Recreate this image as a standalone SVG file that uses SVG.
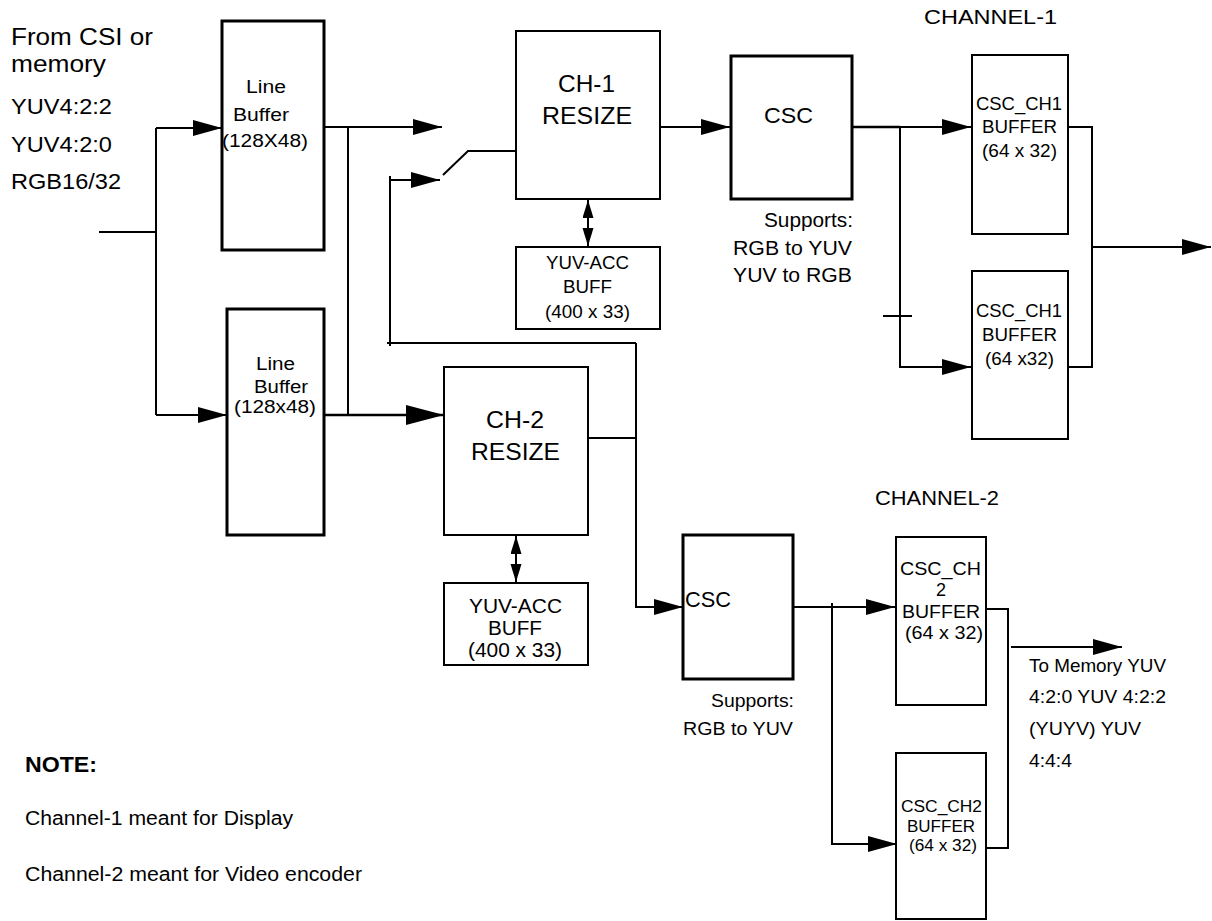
<svg xmlns="http://www.w3.org/2000/svg" width="1212" height="921" viewBox="0 0 1212 921">
<style>
text{font-family:"Liberation Sans",Arial,Helvetica,sans-serif;fill:#000}
.box{fill:#fff;stroke:#000;stroke-width:2}
.thick{stroke-width:3}
.ln{fill:none;stroke:#000;stroke-width:2}
.lnb{fill:none;stroke:#000;stroke-width:2.6}
.f18{font-size:18px}.f16{font-size:16px}.f19{font-size:19px}.f20{font-size:20px}.f21{font-size:21px}.f22{font-size:22px}.f24{font-size:24px}
</style>
<defs>
<marker id="arr" markerUnits="userSpaceOnUse" markerWidth="30" markerHeight="18" refX="29" refY="8" orient="auto">
<path d="M0,0 L29,8 L0,16 z" fill="#000"/>
</marker>
<marker id="arrL" markerUnits="userSpaceOnUse" markerWidth="40" markerHeight="22" refX="38" refY="10" orient="auto">
<path d="M0,0 L38,10 L0,20 z" fill="#000"/>
</marker>
<marker id="arrS" markerUnits="userSpaceOnUse" markerWidth="20" markerHeight="12" refX="18" refY="5.5" orient="auto-start-reverse">
<path d="M0,0 L18,5.5 L0,11 z" fill="#000"/>
</marker>
</defs>

<g id="labels">
<text class="f24" x="11" y="45" textLength="142" lengthAdjust="spacingAndGlyphs">From CSI or</text>
<text class="f24" x="11" y="72" textLength="95" lengthAdjust="spacingAndGlyphs">memory</text>
<text class="f22" x="11" y="114" textLength="101" lengthAdjust="spacingAndGlyphs">YUV4:2:2</text>
<text class="f22" x="11" y="152" textLength="101" lengthAdjust="spacingAndGlyphs">YUV4:2:0</text>
<text class="f22" x="11" y="189" textLength="110" lengthAdjust="spacingAndGlyphs">RGB16/32</text>
<text class="f21" x="924" y="24" textLength="133" lengthAdjust="spacingAndGlyphs">CHANNEL-1</text>
<text class="f21" x="875" y="505" textLength="124" lengthAdjust="spacingAndGlyphs">CHANNEL-2</text>
<text class="f20" x="764" y="227" textLength="89" lengthAdjust="spacingAndGlyphs">Supports:</text>
<text class="f20" x="733" y="255" textLength="119" lengthAdjust="spacingAndGlyphs">RGB to YUV</text>
<text class="f20" x="733" y="282" textLength="119" lengthAdjust="spacingAndGlyphs">YUV to RGB</text>
<text class="f19" x="711" y="707" textLength="83" lengthAdjust="spacingAndGlyphs">Supports:</text>
<text class="f19" x="683" y="735" textLength="110" lengthAdjust="spacingAndGlyphs">RGB to YUV</text>
<text class="f19" x="1029" y="672" textLength="137" lengthAdjust="spacingAndGlyphs">To Memory YUV</text>
<text class="f19" x="1029" y="703" textLength="137" lengthAdjust="spacingAndGlyphs">4:2:0 YUV 4:2:2</text>
<text class="f19" x="1029" y="735" textLength="112" lengthAdjust="spacingAndGlyphs">(YUYV) YUV</text>
<text class="f19" x="1029" y="767" textLength="43" lengthAdjust="spacingAndGlyphs">4:4:4</text>
<text class="f22" x="25" y="772" font-weight="bold" textLength="72" lengthAdjust="spacingAndGlyphs">NOTE:</text>
<text class="f20" x="25" y="825" textLength="268" lengthAdjust="spacingAndGlyphs">Channel-1 meant for Display</text>
<text class="f20" x="25" y="881" textLength="337" lengthAdjust="spacingAndGlyphs">Channel-2 meant for Video encoder</text>
</g>

<g id="connectors">
<path class="ln" d="M99,232 H156 M156,128 V415"/>
<path class="ln" d="M156,128 H222" marker-end="url(#arr)"/>
<path class="ln" d="M156,415 H227" marker-end="url(#arr)"/>
<path class="ln" d="M324,127 H442" marker-end="url(#arr)"/>
<path class="ln" d="M348,127 V415"/>
<path class="lnb" d="M324,415 H444" marker-end="url(#arrL)"/>
<path class="ln" d="M588,438 H636 M636,343 H387 M390,176 V346"/>
<path class="ln" d="M636,343 V607 H683" marker-end="url(#arr)"/>
<path class="ln" d="M390,180 H440" marker-end="url(#arr)"/>
<path class="ln" d="M443,175 L468,151 H516"/>
<path class="ln" d="M660,127 H730" marker-end="url(#arr)"/>
<path class="ln" d="M588,200 V246" marker-start="url(#arrS)" marker-end="url(#arrS)"/>
<path class="ln" d="M516,536 V582" marker-start="url(#arrS)" marker-end="url(#arrS)"/>
<path class="lnb" d="M852,127 H900"/>
<path class="ln" d="M899,127 H971" marker-end="url(#arr)"/>
<path class="ln" d="M900,127 V367 H971" marker-end="url(#arr)"/>
<path class="ln" d="M883,316 H912"/>
<path class="ln" d="M1068,127 H1092 V367 H1068"/>
<path class="ln" d="M1092,247 H1211" marker-end="url(#arr)"/>
<path class="ln" d="M793,607 H895" marker-end="url(#arr)"/>
<path class="ln" d="M832,603 V844 H897" marker-end="url(#arr)"/>
<path class="ln" d="M986,609 H1008 V848 H986"/>
<path class="ln" d="M1011,647 H1122" marker-end="url(#arr)"/>
</g>

<g id="line-buffer-1">
<rect class="box thick" x="222" y="21" width="102" height="229"/>
<text class="f18" x="246" y="93" textLength="40" lengthAdjust="spacingAndGlyphs">Line</text>
<text class="f18" x="233" y="121" textLength="56" lengthAdjust="spacingAndGlyphs">Buffer</text>
<text class="f18" x="222" y="147" textLength="86" lengthAdjust="spacingAndGlyphs">(128X48)</text>
</g>

<g id="line-buffer-2">
<rect class="box thick" x="227" y="309" width="97" height="226"/>
<text class="f18" x="256" y="370" textLength="39" lengthAdjust="spacingAndGlyphs">Line</text>
<text class="f18" x="254" y="393" textLength="54" lengthAdjust="spacingAndGlyphs">Buffer</text>
<text class="f18" x="234" y="413" textLength="82" lengthAdjust="spacingAndGlyphs">(128x48)</text>
</g>

<g id="ch1-resize">
<rect class="box" x="516" y="31" width="144" height="168"/>
<text class="f24" x="558" y="92" textLength="57" lengthAdjust="spacingAndGlyphs">CH-1</text>
<text class="f24" x="542" y="124" textLength="90" lengthAdjust="spacingAndGlyphs">RESIZE</text>
</g>

<g id="yuv-acc-1">
<rect class="box" x="516" y="247" width="144" height="82"/>
<text class="f18" x="546" y="269" textLength="83" lengthAdjust="spacingAndGlyphs">YUV-ACC</text>
<text class="f18" x="563" y="293" textLength="49" lengthAdjust="spacingAndGlyphs">BUFF</text>
<text class="f18" x="545" y="318" textLength="85" lengthAdjust="spacingAndGlyphs">(400 x 33)</text>
</g>

<g id="ch2-resize">
<rect class="box" x="444" y="367" width="144" height="168"/>
<text class="f24" x="486" y="428" textLength="58" lengthAdjust="spacingAndGlyphs">CH-2</text>
<text class="f24" x="471" y="460" textLength="89" lengthAdjust="spacingAndGlyphs">RESIZE</text>
</g>

<g id="yuv-acc-2">
<rect class="box" x="444" y="583" width="144" height="82"/>
<text class="f20" x="469" y="613" textLength="93" lengthAdjust="spacingAndGlyphs">YUV-ACC</text>
<text class="f20" x="488" y="635" textLength="54" lengthAdjust="spacingAndGlyphs">BUFF</text>
<text class="f20" x="468" y="657" textLength="94" lengthAdjust="spacingAndGlyphs">(400 x 33)</text>
</g>

<g id="csc-1">
<rect class="box thick" x="731" y="56" width="121" height="143"/>
<text class="f22" x="764" y="123" textLength="49" lengthAdjust="spacingAndGlyphs">CSC</text>
</g>

<g id="csc-2">
<rect class="box thick" x="683" y="535" width="110" height="144"/>
<text class="f22" x="685" y="607" textLength="46" lengthAdjust="spacingAndGlyphs">CSC</text>
</g>

<g id="csc-ch1-buffer-1">
<rect class="box" x="972" y="55" width="96" height="179"/>
<text class="f18" x="976" y="110" textLength="86" lengthAdjust="spacingAndGlyphs">CSC_CH1</text>
<text class="f18" x="982" y="133" textLength="75" lengthAdjust="spacingAndGlyphs">BUFFER</text>
<text class="f18" x="982" y="157" textLength="75" lengthAdjust="spacingAndGlyphs">(64 x 32)</text>
</g>

<g id="csc-ch1-buffer-2">
<rect class="box" x="972" y="271" width="96" height="168"/>
<text class="f18" x="976" y="317" textLength="86" lengthAdjust="spacingAndGlyphs">CSC_CH1</text>
<text class="f18" x="982" y="341" textLength="75" lengthAdjust="spacingAndGlyphs">BUFFER</text>
<text class="f18" x="985" y="365" textLength="69" lengthAdjust="spacingAndGlyphs">(64 x32)</text>
</g>

<g id="csc-ch2-buffer-1">
<rect class="box" x="896" y="537" width="90" height="168"/>
<text class="f18" x="900" y="575" textLength="81" lengthAdjust="spacingAndGlyphs">CSC_CH</text>
<text class="f18" x="941" y="596" text-anchor="middle">2</text>
<text class="f18" x="902" y="618" textLength="78" lengthAdjust="spacingAndGlyphs">BUFFER</text>
<text class="f18" x="905" y="639" textLength="78" lengthAdjust="spacingAndGlyphs">(64 x 32)</text>
</g>

<g id="csc-ch2-buffer-2">
<rect class="box" x="896" y="753" width="90" height="166"/>
<text class="f16" x="901" y="812" textLength="81" lengthAdjust="spacingAndGlyphs">CSC_CH2</text>
<text class="f16" x="907" y="832" textLength="68" lengthAdjust="spacingAndGlyphs">BUFFER</text>
<text class="f16" x="909" y="851" textLength="68" lengthAdjust="spacingAndGlyphs">(64 x 32)</text>
</g>
</svg>
